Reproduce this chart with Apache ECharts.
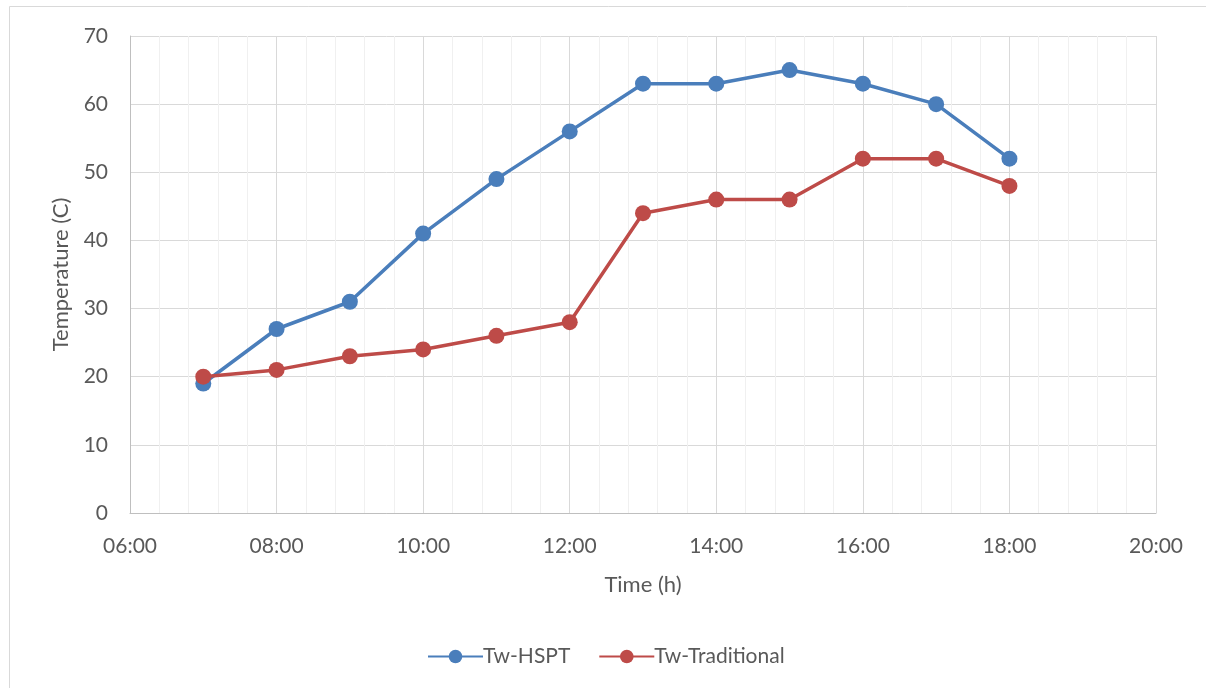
<!DOCTYPE html>
<html>
<head>
<meta charset="utf-8">
<script src="https://cdn.jsdelivr.net/npm/echarts@6/dist/echarts.min.js"></script>
<style>
  html, body { margin: 0; padding: 0; background: #ffffff; }
  #chart { width: 1206px; height: 688px; }
</style>
</head>
<body>
<div id="chart"></div>
<script>
// Hour of day for each reading
const hours = [7, 8, 9, 10, 11, 12, 13, 14, 15, 16, 17, 18];
// Water temperature (C)
const twHspt = [19, 27, 31, 41, 49, 56, 63, 63, 65, 63, 60, 52];
const twTraditional = [20, 21, 23, 24, 26, 28, 44, 46, 46, 52, 52, 48];
const seriesNames = ['Tw-HSPT', 'Tw-Traditional'];
const xTitle = 'Time (h)';
const yTitle = 'Temperature (C)';

const fontFamily = 'Lato, Carlito, Calibri, sans-serif';
const textColor = '#595959';

function pairs(xs, ys) {
  return xs.map((x, i) => [x, ys[i]]);
}
function hhmm(v) {
  return String(v).padStart(2, '0') + ':00';
}

const chart = echarts.init(document.getElementById('chart'), null, { renderer: 'canvas' });

const lineSeries = (name, data, color) => ({
  name,
  type: 'line',
  data,
  symbol: 'circle',
  symbolSize: 16,
  lineStyle: { width: 3.5, color },
  itemStyle: { color },
  emphasis: { disabled: true },
  animation: false
});

chart.setOption({
  backgroundColor: '#ffffff',
  animation: false,
  graphic: [{
    type: 'rect',
    shape: { x: 9.5, y: 6.5, width: 1300, height: 800 },
    style: { fill: 'none', stroke: '#d9d9d9', lineWidth: 1 },
    silent: true,
    z: -1
  }],
  grid: { left: 130, right: 50, top: 36, bottom: 175 },
  legend: {
    data: seriesNames,
    top: 641,
    left: 422,
    itemWidth: 55,
    itemHeight: 17,
    itemGap: 28,
    textStyle: { fontFamily, fontSize: 21, color: textColor, padding: [0, 0, 0, -5] }
  },
  xAxis: {
    type: 'value',
    min: 6,
    max: 20,
    interval: 2,
    name: xTitle,
    nameLocation: 'middle',
    nameGap: 61,
    nameTextStyle: { fontFamily, fontSize: 22, color: textColor },
    axisLine: { show: true, lineStyle: { color: '#bfbfbf', width: 1 } },
    axisTick: { show: false },
    axisLabel: {
      formatter: hhmm,
      fontFamily, fontSize: 21, color: textColor, margin: 23
    },
    splitLine: { show: true, lineStyle: { color: '#d9d9d9', width: 1 } },
    minorTick: { show: false, splitNumber: 5 },
    minorSplitLine: { show: true, lineStyle: { color: '#f0f0f0', width: 1 } }
  },
  yAxis: {
    type: 'value',
    min: 0,
    max: 70,
    interval: 10,
    name: yTitle,
    nameLocation: 'middle',
    nameGap: 58,
    nameTextStyle: { fontFamily, fontSize: 22, color: textColor },
    axisLine: { show: true, lineStyle: { color: '#bfbfbf', width: 1 } },
    axisTick: { show: false },
    axisLabel: { fontFamily, fontSize: 21, color: textColor, margin: 22 },
    splitLine: { show: true, lineStyle: { color: '#d9d9d9', width: 1 } }
  },
  series: [
    lineSeries(seriesNames[0], pairs(hours, twHspt), '#4a7ebb'),
    lineSeries(seriesNames[1], pairs(hours, twTraditional), '#be4b48')
  ]
});
</script>
</body>
</html>
